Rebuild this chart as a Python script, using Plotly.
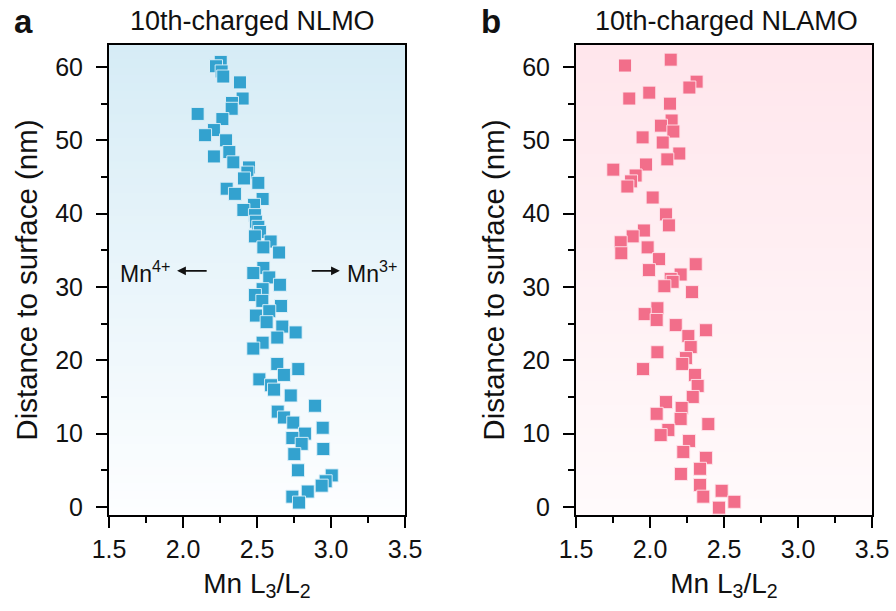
import plotly.graph_objects as go

# ---------------- data ----------------
nlmo_x = [2.255, 2.223, 2.261, 2.272, 2.385, 2.403, 2.331, 2.329, 2.099, 2.266,
          2.209, 2.149, 2.291, 2.313, 2.209, 2.340, 2.446, 2.435, 2.412, 2.509,
          2.295, 2.351, 2.538, 2.480, 2.408, 2.486, 2.493, 2.509, 2.520, 2.486,
          2.592, 2.543, 2.649, 2.543, 2.475, 2.583, 2.655, 2.538, 2.486, 2.536,
          2.662, 2.583, 2.493, 2.565, 2.671, 2.761, 2.637, 2.538, 2.475, 2.637,
          2.779, 2.682, 2.516, 2.595, 2.615, 2.728, 2.892, 2.640, 2.682, 2.745,
          2.944, 2.824, 2.739, 2.802, 2.948, 2.752, 2.777, 3.005, 2.964, 2.937,
          2.843, 2.739, 2.784]
nlmo_y = [60.7, 60.1, 59.4, 58.7, 57.9, 55.7, 55.1, 54.3, 53.6, 52.9,
          51.4, 50.7, 50.0, 48.4, 47.8, 47.0, 46.3, 45.6, 44.8, 44.2,
          43.4, 42.7, 42.0, 41.2, 40.5, 39.8, 38.9, 38.2, 37.5, 36.9,
          36.2, 35.4, 34.7, 32.6, 31.9, 31.3, 30.3, 29.7, 28.9, 28.1,
          27.4, 26.7, 26.1, 25.2, 24.6, 23.8, 23.1, 22.4, 21.6, 19.5,
          18.8, 18.0, 17.4, 16.6, 16.0, 15.2, 13.8, 13.0, 12.2, 11.5,
          10.8, 10.0, 9.4, 8.6, 7.9, 7.2, 5.0, 4.3, 3.5, 2.9,
          2.1, 1.4, 0.6]

nlamo_x = [2.140, 1.831, 2.315, 2.266, 1.995, 1.860, 2.135, 2.146, 2.074, 2.158,
           1.950, 2.086, 2.198, 2.117, 1.973, 1.752, 1.903, 1.872, 1.847, 2.018,
           2.108, 2.128, 1.959, 1.883, 1.802, 1.984, 1.806, 2.061, 2.309, 1.993,
           2.207, 2.140, 2.153, 2.097, 2.284, 2.050, 1.964, 2.045, 2.174, 2.378,
           2.259, 2.275, 2.050, 2.243, 2.218, 1.953, 2.304, 2.322, 2.289, 2.108,
           2.214, 2.045, 2.207, 2.394, 2.124, 2.072, 2.264, 2.225, 2.378, 2.338,
           2.209, 2.338, 2.484, 2.360, 2.570, 2.466]
nlamo_y = [61.0, 60.2, 58.0, 57.2, 56.5, 55.7, 55.0, 52.7, 52.0, 51.2,
           50.4, 49.7, 48.2, 47.4, 46.7, 46.0, 45.2, 44.4, 43.7, 42.2,
           39.9, 38.4, 37.7, 36.9, 36.1, 35.4, 34.6, 33.8, 33.1, 32.3,
           31.7, 31.1, 30.7, 30.1, 29.3, 27.1, 26.3, 25.5, 24.8, 24.1,
           23.3, 21.8, 21.1, 20.3, 19.5, 18.8, 18.0, 16.5, 15.0, 14.3,
           13.5, 12.7, 12.0, 11.3, 10.5, 9.8, 9.0, 7.5, 6.7, 5.2,
           4.5, 3.0, 2.2, 1.4, 0.7, -0.1]

x_ticks = [1.5, 2.0, 2.5, 3.0, 3.5]
y_ticks = [0, 10, 20, 30, 40, 50, 60]
titles = ["10th-charged NLMO", "10th-charged NLAMO"]
panel_letters = ["a", "b"]

# ---------------- figure ----------------
W, H = 896, 611
FONT = "Liberation Sans, Arial, sans-serif"
TXT = "#111111"

fig = go.Figure()
fig.add_trace(go.Scatter(x=nlmo_x, y=nlmo_y, mode="markers", xaxis="x", yaxis="y",
                         marker=dict(symbol="square", size=13, color="#33A2CF",
                                     line=dict(color="rgba(225,242,250,0.9)", width=1)),
                         showlegend=False))
fig.add_trace(go.Scatter(x=nlamo_x, y=nlamo_y, mode="markers", xaxis="x2", yaxis="y2",
                         marker=dict(symbol="square", size=13, color="#F26E8A",
                                     line=dict(color="rgba(255,230,236,0.9)", width=1)),
                         showlegend=False))

dom_a = [109 / W, 405 / W]
dom_b = [576 / W, 872 / W]
ydom = [1 - 515 / H, 1 - 45 / H]

axis_common = dict(showline=True, linecolor="black", linewidth=2, mirror=True,
                   ticks="outside", tickcolor="black", tickwidth=2, ticklen=11,
                   showgrid=False, zeroline=False, automargin=False,
                   tickfont=dict(family=FONT, size=25, color=TXT))

xcommon = dict(axis_common, range=[1.5, 3.5], tickvals=x_ticks,
               ticktext=[f"{v:.1f}" for v in x_ticks],
               minor=dict(ticks="outside", dtick=0.25, tick0=1.5, ticklen=6,
                          tickwidth=2, tickcolor="black", showgrid=False),
               title=dict(text="Mn L<sub>3</sub>/L<sub>2</sub>",
                          font=dict(family=FONT, size=28, color=TXT), standoff=11))
ycommon = dict(axis_common, range=[-1.1, 63], tickvals=y_ticks, ticklabelstandoff=8,
               minor=dict(ticks="outside", dtick=5, tick0=0, ticklen=6,
                          tickwidth=2, tickcolor="black", showgrid=False))
ytitle = dict(text="Distance to surface (nm)",
              font=dict(family=FONT, size=29.5, color=TXT), standoff=9)

fig.update_layout(
    width=W, height=H,
    margin=dict(l=0, r=0, t=0, b=0),
    paper_bgcolor="white", plot_bgcolor="rgba(0,0,0,0)",
    font=dict(family=FONT, color=TXT),
    xaxis=dict(xcommon, domain=dom_a, anchor="y"),
    yaxis=dict(ycommon, domain=ydom, anchor="x", title=ytitle),
    xaxis2=dict(xcommon, domain=dom_b, anchor="y2"),
    yaxis2=dict(ycommon, domain=ydom, anchor="x2", title=ytitle),
)


def lerp(c1, c2, t):
    return "rgb(%d,%d,%d)" % tuple(round(a + (b - a) * t) for a, b in zip(c1, c2))


# gradient backgrounds
N = 60
grads = [("x", "y", (214, 236, 246), (253, 254, 255)),
         ("x2", "y2", (255, 230, 236), (255, 250, 251))]
for xr, yr, top, bot in grads:
    for i in range(N):
        t = i / (N - 1)
        fig.add_shape(type="rect", xref=f"{xr} domain", yref=f"{yr} domain",
                      x0=0, x1=1, y0=1 - (i + 1) / N, y1=1 - i / N + 0.002,
                      fillcolor=lerp(top, bot, t), line=dict(width=0), layer="below")

# titles and panel letters
for dom, ttl, letter, dx in zip([dom_a, dom_b], titles, panel_letters, [-5, 2]):
    fig.add_annotation(xref="paper", yref="paper", x=(dom[0] + dom[1]) / 2 + dx / W,
                       y=1 - 21 / H, text=ttl, showarrow=False,
                       font=dict(family=FONT, size=27, color=TXT),
                       xanchor="center", yanchor="middle")
    fig.add_annotation(xref="paper", yref="paper", x=dom[0] - 97 / W,
                       y=1 - 21 / H, text=f"<b>{letter}</b>", showarrow=False,
                       font=dict(family=FONT, size=33, color=TXT),
                       xanchor="left", yanchor="middle")

# Mn4+ / Mn3+ labels with arrows
fig.add_annotation(xref="x", yref="y", x=1.56, y=32.0, text="Mn<sup>4+</sup>",
                   showarrow=False, xanchor="left",
                   font=dict(family=FONT, size=23, color=TXT))
fig.add_annotation(xref="x", yref="y", x=3.46, y=32.0, text="Mn<sup>3+</sup>",
                   showarrow=False, xanchor="right",
                   font=dict(family=FONT, size=23, color=TXT))
fig.add_annotation(xref="x", yref="y", x=1.96, y=32.2, ax=2.17, ay=32.2,
                   axref="x", ayref="y", text="", showarrow=True,
                   arrowhead=2, arrowsize=1.1, arrowwidth=1.6, arrowcolor=TXT)
fig.add_annotation(xref="x", yref="y", x=3.06, y=32.2, ax=2.86, ay=32.2,
                   axref="x", ayref="y", text="", showarrow=True,
                   arrowhead=2, arrowsize=1.1, arrowwidth=1.6, arrowcolor=TXT)

fig.write_html("out.html")
